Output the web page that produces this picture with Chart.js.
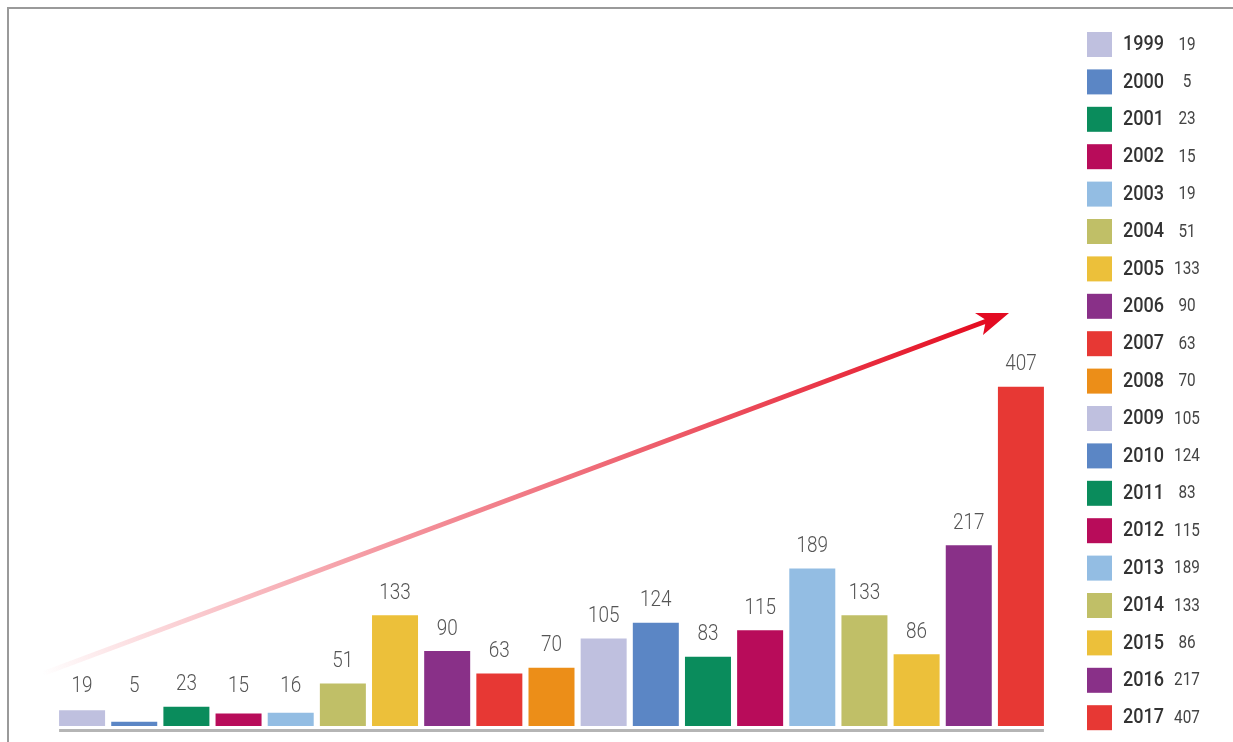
<!DOCTYPE html>
<html>
<head>
<meta charset="utf-8">
<script src="https://cdn.jsdelivr.net/npm/chart.js@4/dist/chart.umd.min.js"></script>
<style>
  html, body { margin: 0; padding: 0; background: #fff; }
  #wrap { width: 1233px; height: 742px; position: relative; }
</style>
</head>
<body>
<div id="wrap"><canvas id="myChart" width="1233" height="742"></canvas></div>
<script>
let years = ['1999', '2000', '2001', '2002', '2003', '2004', '2005', '2006', '2007', '2008',
  '2009', '2010', '2011', '2012', '2013', '2014', '2015', '2016', '2017'];
let barValues = [19, 5, 23, 15, 16, 51, 133, 90, 63, 70, 105, 124, 83, 115, 189, 133, 86, 217, 407];
let legendValues = [19, 5, 23, 15, 19, 51, 133, 90, 63, 70, 105, 124, 83, 115, 189, 133, 86, 217, 407];
let colors = ['#bfc0df', '#5b86c5', '#0a8c5c', '#b80c5a', '#93bde3', '#c0bf67', '#ecc03a',
  '#893088', '#e73834', '#ec8e18', '#bfc0df', '#5b86c5', '#0a8c5c', '#b80c5a', '#93bde3',
  '#c0bf67', '#ecc03a', '#893088', '#e73834'];

// no condensed face installed, so squeeze Roboto horizontally
function narrowText(ctx, txt, x, y, sx) {
  ctx.save();
  ctx.translate(x, y);
  ctx.scale(sx, 1);
  ctx.fillText(txt, 0, 0);
  ctx.restore();
}

let decor = {
  id: 'decor',
  beforeDraw(chart) {
    let ctx = chart.ctx;
    ctx.save();
    // frame
    ctx.strokeStyle = '#9a9a9a';
    ctx.lineWidth = 2;
    ctx.beginPath();
    ctx.moveTo(8, 742);
    ctx.lineTo(8, 8);
    ctx.lineTo(1233, 8);
    ctx.stroke();

    // trend arrow
    let x0 = 42, y0 = 674, x1 = 992, y1 = 319;
    let g = ctx.createLinearGradient(x0, y0, x1, y1);
    g.addColorStop(0, 'rgba(232,20,40,0)');
    g.addColorStop(0.5, 'rgba(236,80,95,0.75)');
    g.addColorStop(1, 'rgba(228,10,30,1)');
    ctx.strokeStyle = g;
    ctx.lineWidth = 5;
    ctx.beginPath();
    ctx.moveTo(x0, y0);
    ctx.lineTo(x1, y1);
    ctx.stroke();
    ctx.fillStyle = '#e30b22';
    ctx.beginPath();
    ctx.moveTo(1009, 313);
    ctx.lineTo(975, 313);
    ctx.lineTo(986, 320);
    ctx.lineTo(983, 335);
    ctx.closePath();
    ctx.fill();
    ctx.restore();
  },
  afterDatasetsDraw(chart) {
    let ctx = chart.ctx;
    let meta = chart.getDatasetMeta(0);
    ctx.save();
    // base line
    let first = meta.data[0], last = meta.data[meta.data.length - 1];
    ctx.fillStyle = '#b5b5b5';
    ctx.fillRect(first.x - first.width / 2, chart.chartArea.bottom + 3, last.x + last.width / 2 - (first.x - first.width / 2), 3);

    // value labels
    ctx.fillStyle = '#555';
    ctx.font = '300 22px Roboto, sans-serif';
    ctx.textAlign = 'center';
    ctx.textBaseline = 'middle';
    meta.data.forEach(function (bar, i) {
      let y = Math.min(bar.y - 22, 686);
      narrowText(ctx, barValues[i], bar.x, y, 0.86);
    });

    // legend
    years.forEach(function (yr, i) {
      let y = 44 + i * 37.4;
      ctx.fillStyle = colors[i];
      ctx.fillRect(1087, y - 12, 25, 25);
      ctx.fillStyle = '#333';
      ctx.textAlign = 'left';
      ctx.font = '500 21px Roboto, sans-serif';
      narrowText(ctx, yr, 1123, y + 1, 0.86);
      ctx.fillStyle = '#444';
      ctx.textAlign = 'center';
      ctx.font = '18px Roboto, sans-serif';
      narrowText(ctx, legendValues[i], 1187, y + 1, 0.85);
    });
    ctx.restore();
  }
};

let myChart = document.getElementById('myChart').getContext('2d');
let chart = new Chart(myChart, {
  type: 'bar',
  data: {
    labels: years,
    datasets: [
      {
        data: barValues,
        backgroundColor: colors,
        categoryPercentage: 1,
        barPercentage: 0.882,
      },
    ],
  },
  options: {
    responsive: false,
    animation: false,
    layout: { padding: { left: 56, right: 186, top: 326, bottom: 16 } },
    plugins: { legend: { display: false }, tooltip: { enabled: false } },
    scales: {
      x: { display: false },
      y: { display: false, min: 0, max: 480 },
    },
  },
  plugins: [decor],
});
</script>
</body>
</html>
